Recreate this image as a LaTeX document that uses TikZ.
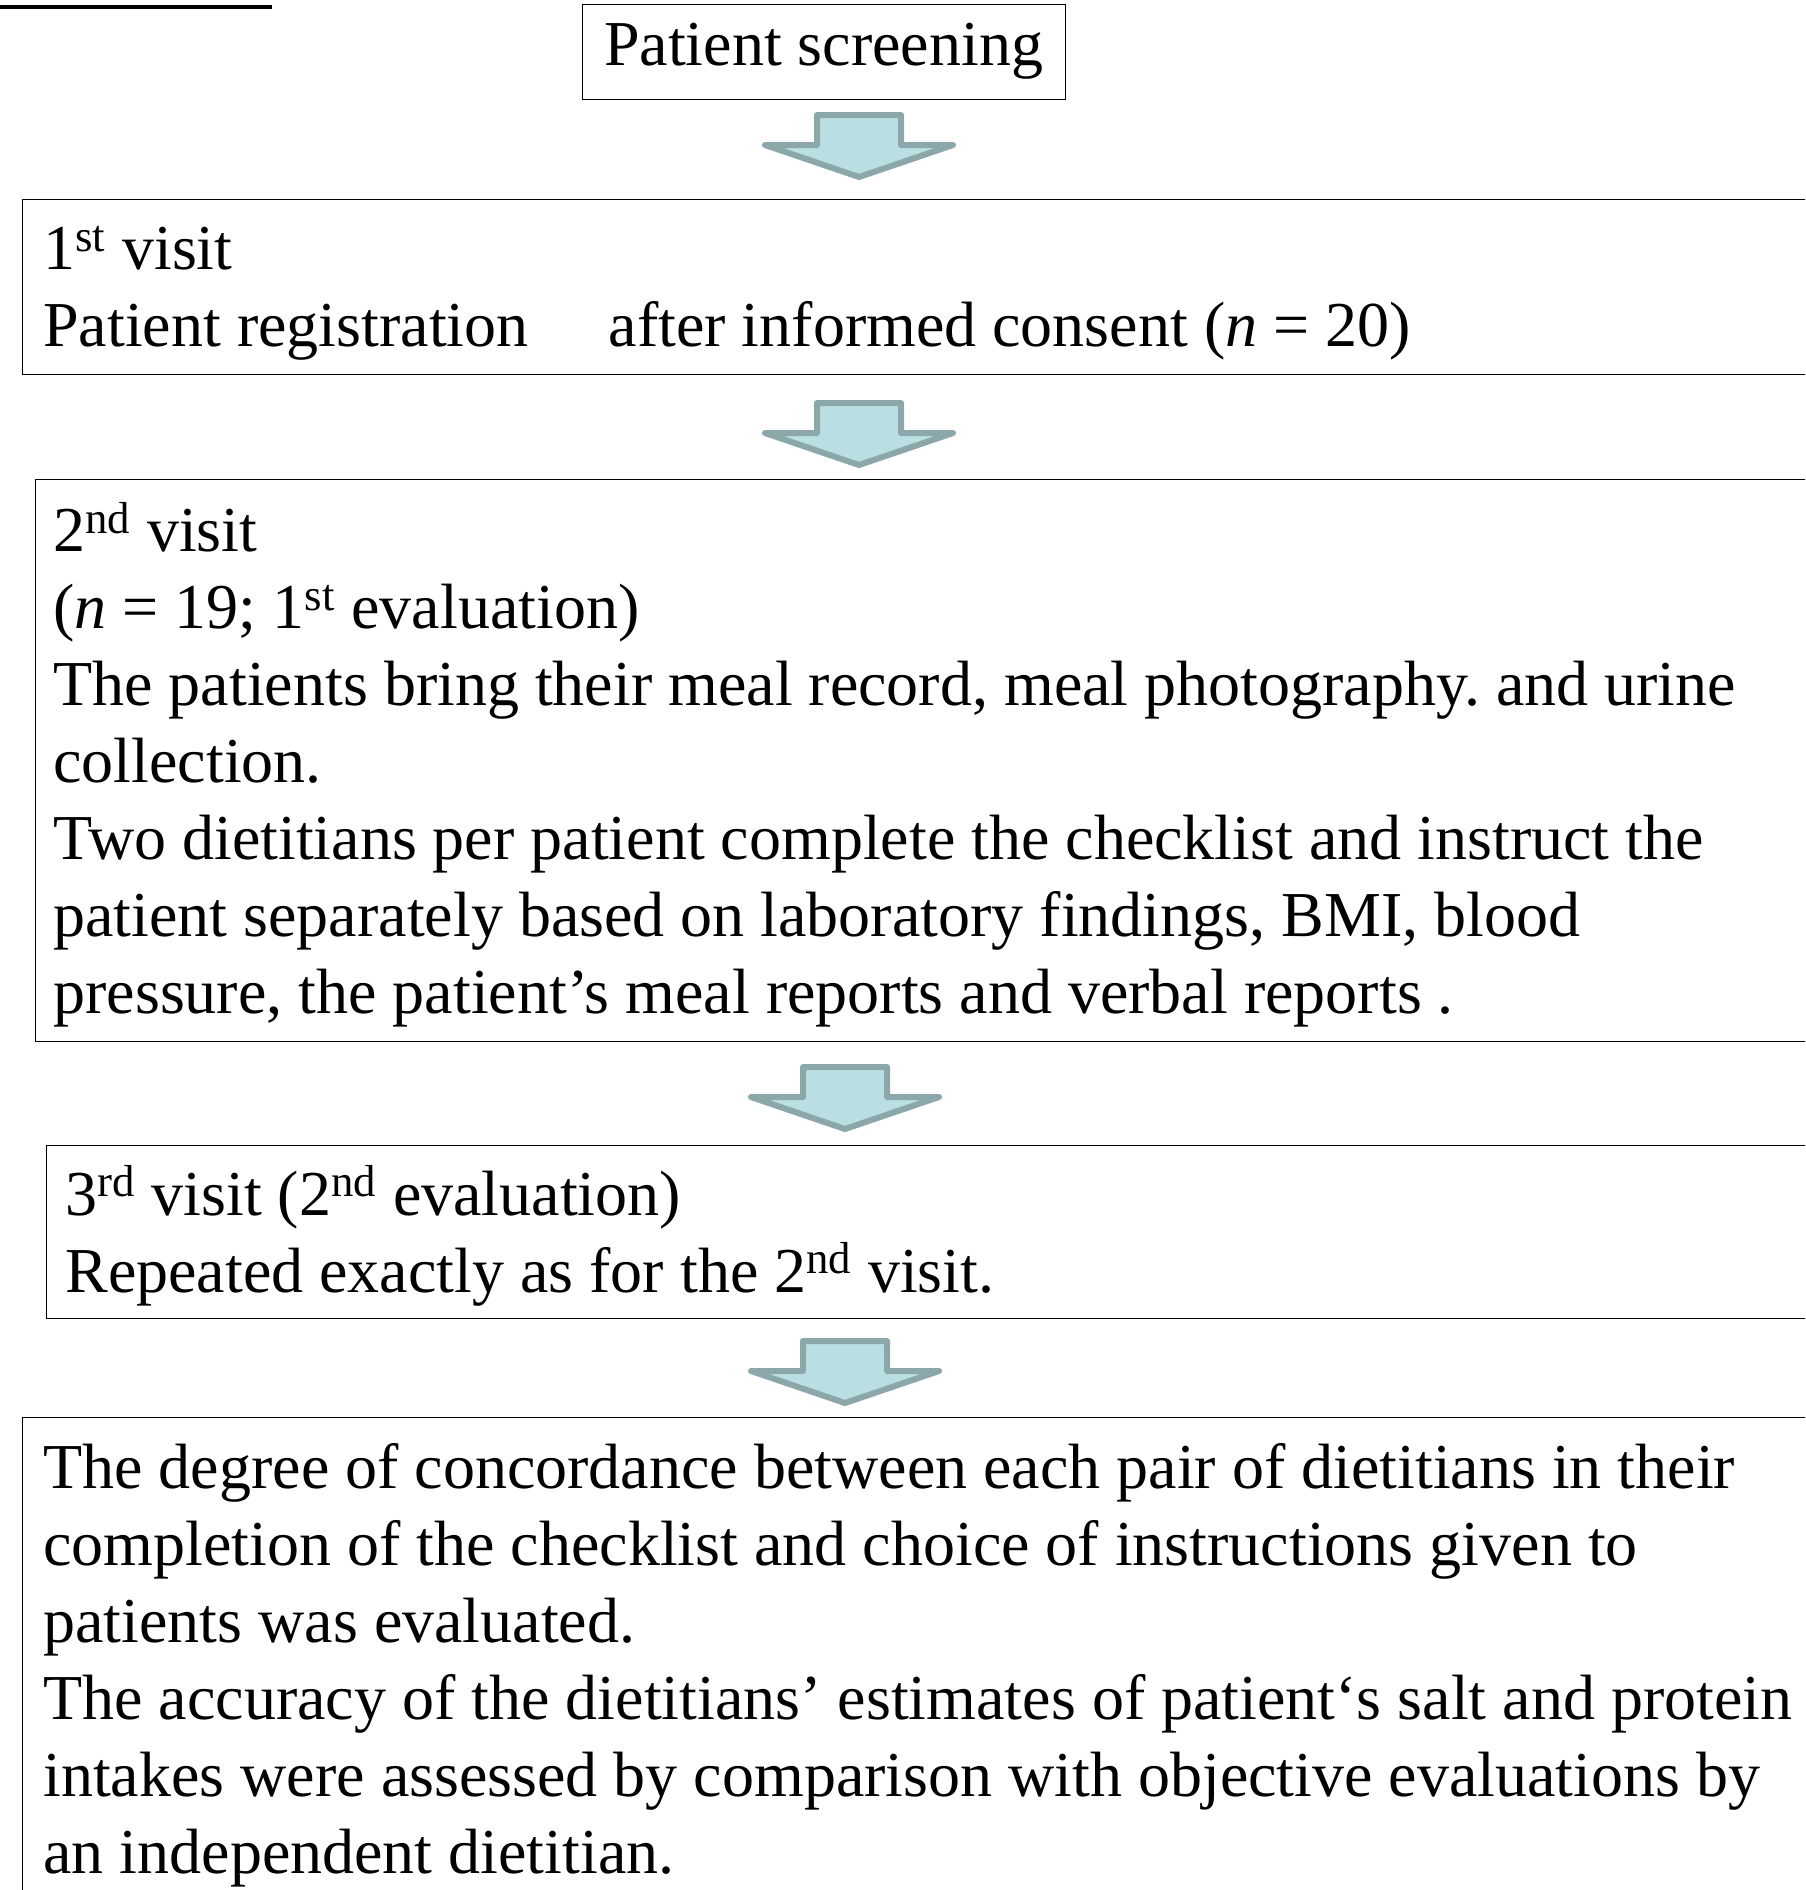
\documentclass[tikz,border=0pt]{standalone}
\usepackage{fontspec}
\setmainfont{Liberation Serif}
\frenchspacing
\usetikzlibrary{positioning}
\definecolor{edge}{HTML}{8BA7A9}
\definecolor{pale}{HTML}{B9DFE2}
\tikzset{line width=1.25pt,
  every node/.style={font=\fontsize{32pt}{38.5pt}\selectfont},
  topbox/.style={draw=black,rectangle,minimum width=241.5pt,minimum height=47.5pt,inner sep=0pt},
  flowbox/.style={draw=black,rectangle,anchor=north west,align=flush left,text width=1000pt,text height=28.5pt,inner ysep=0pt},
  fatarrow/.pic={\draw[draw=edge,fill=pale,line width=3pt,line join=round](-42,3)--(42,3)--(42,33)--(94,33)--(0,65)--(-94,33)--(-42,33)--cycle;}}

\begin{document}
\begin{tikzpicture}[x=.5pt,y=-.5pt]
\useasboundingbox(0,0)rectangle(1805,1890);\clip(0,0)rectangle(1805,1890);
\draw[line width=2pt](0,7)--(272,7);
\node[topbox](screen)at(823.5,51.5){Patient screening};
\node[flowbox,inner xsep=10.5pt,minimum height=87.5pt](visit1)at(22,199){1\textsuperscript{st} visit\\
  Patient registration\hspace{40pt}after informed consent (\textit{n} = 20)};
\node[flowbox,inner xsep=9pt,minimum height=281pt](visit2)at(35,479){2\textsuperscript{nd} visit\\
  (\textit{n} = 19; 1\textsuperscript{st} evaluation)\\
  The patients bring their meal record, meal photography. and urine\\
  collection.\\
  Two dietitians per patient complete the checklist and instruct the\\
  patient separately based on laboratory findings, BMI, blood\\
  pressure, the patient’s meal reports and verbal reports .};
\node[flowbox,inner xsep=9.5pt,minimum height=86.5pt](visit3)at(46,1145){3\textsuperscript{rd} visit (2\textsuperscript{nd} evaluation)\\
  Repeated exactly as for the 2\textsuperscript{nd} visit.};
\node[flowbox,inner xsep=10.5pt,minimum height=242pt](result)at(22,1417){The degree of concordance between each pair of dietitians in their\\
  completion of the checklist and choice of instructions given to\\
  patients was evaluated.\\
  The accuracy of the dietitians’ estimates of patient‘s salt and protein\\
  intakes were assessed by comparison with objective evaluations by\\
  an independent dietitian.};
\foreach \ax/\ay in {859/112,859/400,845/1064,845/1338}{\pic at(\ax,\ay){fatarrow};}
\end{tikzpicture}
\end{document}
